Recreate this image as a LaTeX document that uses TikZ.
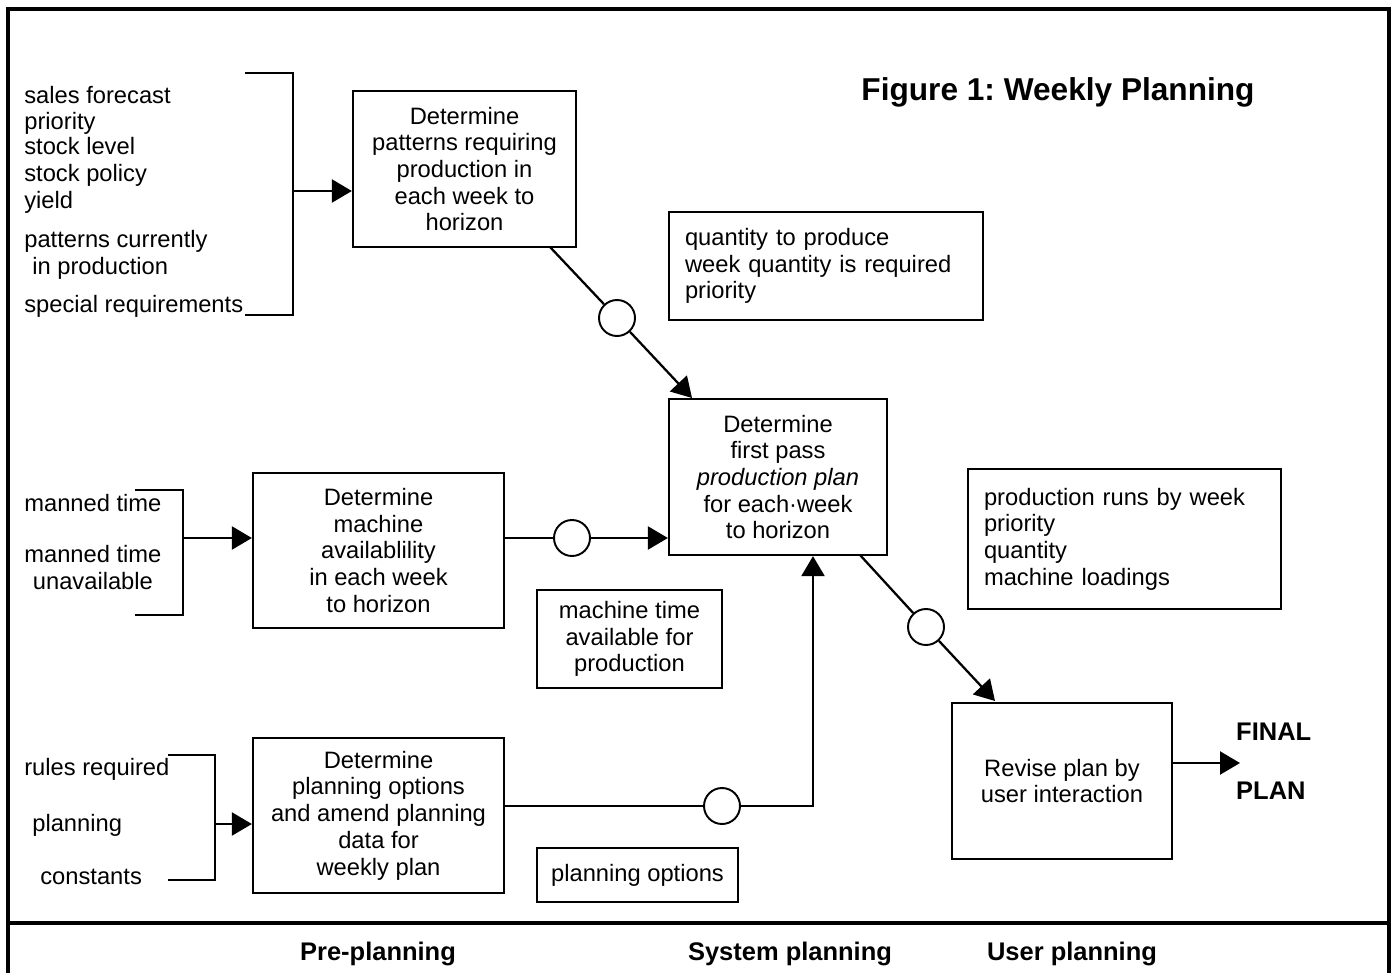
\documentclass[tikz,border=0pt]{standalone}
\usepackage{fontspec}
\setmainfont{Liberation Sans}
\usetikzlibrary{arrows.meta,calc}
\frenchspacing

\begin{document}
\begin{tikzpicture}[x=0.02cm, y=-0.02cm,
	every node/.style={font=\fontsize{13.5}{15.2}\selectfont},
	box/.style={draw, line width=1.3pt, align=center, inner sep=0pt},
	note/.style={draw, line width=1.3pt, align=left, inner xsep=0.32cm, inner ysep=0pt},
	blob/.style={draw, circle, line width=1.1pt, minimum size=0.72cm, inner sep=0pt},
	item/.style={anchor=base west, inner sep=0pt},
	head/.style={font=\fontsize{14.5}{17}\selectfont\bfseries},
	wire/.style={line width=1.3pt},
	flow/.style={line width=1.3pt, -{Triangle[length=0.4cm,width=0.46cm]}},
	frame/.style={line width=1.8pt}]
		%%%%% START %%%%%
		
		\useasboundingbox (0,0) rectangle (1395,973);
		
		% outer frame
		\draw[frame] (8,973) -- (8,9) -- (1389,9) -- (1389,973);
		\draw[frame] (8,923) -- (1389,923);
		
		\node[font=\fontsize{18}{21}\selectfont\bfseries] (title) at (1058,92) {Figure 1: Weekly Planning};
		
		% process boxes
		\node[box, minimum width=4.46cm, minimum height=3.12cm] (patt) at (464.5,169) {Determine\\patterns requiring\\production in\\each week to\\horizon};
		\node[box, minimum width=5.02cm, minimum height=3.1cm] (mach) at (378.5,550.5) {Determine\\machine\\availablility\\in each week\\to horizon};
		\node[box, minimum width=5.02cm, minimum height=3.1cm] (opts) at (378.5,815.5) {Determine\\planning options\\and amend planning\\data for\\weekly plan};
		\node[box, minimum width=4.36cm, minimum height=3.12cm] (first) at (778,477) {Determine\\first pass\\\textit{production plan}\\for each·week\\to horizon};
		\node[box, minimum width=4.4cm, minimum height=3.12cm] (revise) at (1062,781) {Revise plan by\\user interaction};
		
		% data boxes
		\node[box, minimum width=3.7cm, minimum height=1.96cm] (mtime) at (629.5,639) {machine time\\available for\\production};
		\node[box, minimum width=4.02cm, minimum height=1.08cm] (popt) at (637.5,875) {planning options};
		\node[note, text width=5.64cm, minimum height=2.16cm] (qty) at (826,266) {quantity to produce\\week quantity is required\\priority};
		\node[note, text width=5.62cm, minimum height=2.8cm] (runs) at (1124.5,539) {production runs by week\\priority\\quantity\\machine loadings};
		
		% inputs
		\node[item] (sales) at (24,104) {sales forecast};
		\node[item] (prio) at (24,130) {priority};
		\node[item] (level) at (24,155) {stock level};
		\node[item] (policy) at (24,182) {stock policy};
		\node[item] (yield) at (24,209) {yield};
		\node[item] (curr) at (24,247) {patterns currently};
		\node[item] (inprod) at (32,274) {in production};
		\node[item] (special) at (24,312) {special requirements};
		
		\node[item] (manned) at (24,511) {manned time};
		\node[item, align=center] (unav) at (24,589) {manned time\\unavailable};
		
		\node[item] (rules) at (24,775) {rules required};
		\node[item] (plng) at (32,831) {planning};
		\node[item] (const) at (40,884) {constants};
		
		% brackets
		\draw[wire] (245,73) -- (293,73) -- (293,315) -- (245,315);
		\draw[wire] (135,490) -- (183,490) -- (183,615) -- (135,615);
		\draw[wire] (168,755) -- (215,755) -- (215,880) -- (168,880);
		
		\coordinate (br1) at (293,191);
		\coordinate (br2) at (183,538);
		\coordinate (br3) at (215,824);
		\draw[flow] (br1) -- (br1 -| patt.west);
		\draw[flow] (br2) -- (br2 -| mach.west);
		\draw[flow] (br3) -- (br3 -| opts.west);
		
		% data stores
		\node[blob] (c1) at (617,318) {};
		\node[blob] (c2) at (572,538) {};
		\node[blob] (c3) at (722,806) {};
		\node[blob] (c4) at (926,627) {};
		
		\coordinate (a1) at (550,247);
		\coordinate (a2) at (692,398);
		\draw[wire] (a1) -- (c1);
		\draw[flow] (c1) -- (a2);
		
		\coordinate (b1) at (504,538);
		\draw[wire] (b1) -- (c2);
		\draw[flow] (c2) -- (c2 -| first.west);
		
		\coordinate (d1) at (504,806);
		\coordinate (k) at (813,806);
		\draw[wire] (d1) -- (c3);
		\draw[flow] (c3) -- (k) -- (k |- first.south);
		
		\coordinate (e1) at (860,555);
		\coordinate (e2) at (995,701);
		\draw[wire] (e1) -- (c4);
		\draw[flow] (c4) -- (e2);
		
		% output
		\coordinate (f1) at (1172,763);
		\coordinate (f2) at (1240,763);
		\draw[flow] (f1) -- (f2);
		\node[head, anchor=west] (final) at (1230,732) {FINAL};
		\node[head, anchor=west] (plan) at (1230,791) {PLAN};
		
		% phases
		\node[head] (pre) at (378,954) {Pre-planning};
		\node[head] (sys) at (790,954) {System planning};
		\node[head] (user) at (1072,954) {User planning};
		
		%%%%% END %%%%%
\end{tikzpicture}
\end{document}
